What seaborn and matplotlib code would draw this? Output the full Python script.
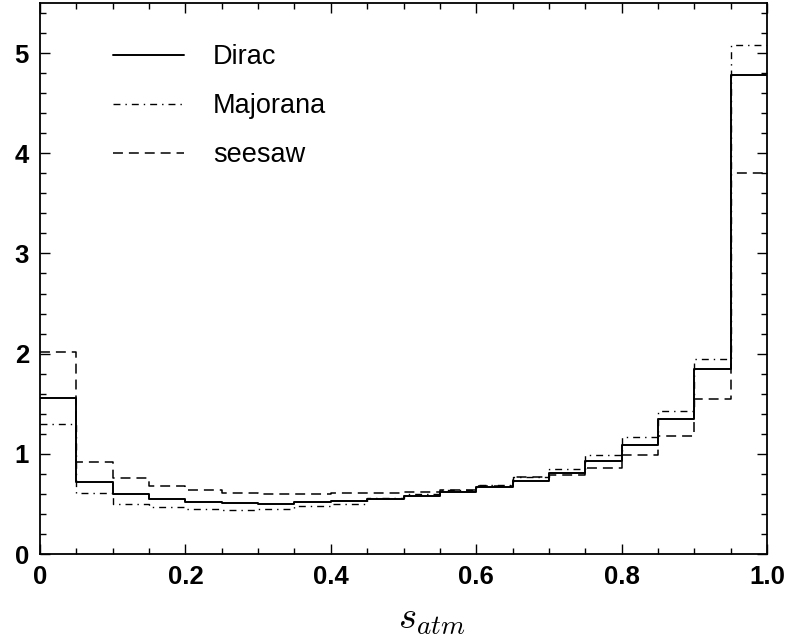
import numpy as np
import pandas as pd
import matplotlib
matplotlib.use("Agg")
import matplotlib.pyplot as plt
from matplotlib.lines import Line2D
from matplotlib.ticker import MultipleLocator
import seaborn as sns

# s_atm range and bin width (20 bins)
s_range = (0.0, 1.0)
bin_width = 0.05

# Normalised distributions per bin
dirac = [1.56, 0.715, 0.595, 0.545, 0.52, 0.505, 0.50, 0.515, 0.53, 0.55,
         0.58, 0.62, 0.665, 0.73, 0.81, 0.93, 1.09, 1.35, 1.85, 4.78]
majorana = [1.30, 0.61, 0.50, 0.465, 0.45, 0.44, 0.45, 0.48, 0.50, 0.56,
            0.60, 0.64, 0.69, 0.77, 0.85, 0.99, 1.165, 1.43, 1.95, 5.08]
seesaw = [2.02, 0.92, 0.76, 0.68, 0.64, 0.605, 0.60, 0.60, 0.61, 0.61,
          0.62, 0.64, 0.675, 0.765, 0.785, 0.86, 0.985, 1.175, 1.55, 3.80]

series_names = ["Dirac", "Majorana", "seesaw"]
x_tick_values = [0.0, 0.2, 0.4, 0.6, 0.8, 1.0]
x_tick_labels = ["0", "0.2", "0.4", "0.6", "0.8", "1.0"]
y_tick_values = [0, 1, 2, 3, 4, 5]
y_tick_labels = ["0", "1", "2", "3", "4", "5"]

sns.set_theme(style="ticks", rc={
    "text.color": "black", "axes.labelcolor": "black",
    "xtick.color": "black", "ytick.color": "black",
    "axes.edgecolor": "black",
})
plt.rcParams["font.family"] = ["Liberation Sans", "DejaVu Sans"]
plt.rcParams["mathtext.fontset"] = "cm"

n_bins = len(dirac)
centers = s_range[0] + bin_width * (np.arange(n_bins) + 0.5)
df = pd.DataFrame({
    "s": np.tile(centers, 3),
    "density": np.concatenate([dirac, majorana, seesaw]),
    "model": np.repeat(series_names, n_bins),
})

styles = {
    "Dirac": dict(linestyle="-", linewidth=1.4),
    "Majorana": dict(linestyle=(0, (5, 3.6, 1, 3.6)), linewidth=1.0),
    "seesaw": dict(linestyle=(0, (6.5, 3.9)), linewidth=1.1),
}

fig = plt.figure(figsize=(7.88, 6.41), dpi=100)
ax = fig.add_axes([40 / 788, 1 - 554 / 641, 727 / 788, 551 / 641])

for name in series_names:
    sub = df[df["model"] == name]
    sns.histplot(data=sub, x="s", weights="density", binwidth=bin_width,
                 binrange=s_range, element="step", fill=False, stat="count",
                 color="black", ax=ax, **styles[name])

ax.set_xlim(*s_range)
ax.set_ylim(0, 5.5)
ax.set_xticks(x_tick_values)
ax.set_xticklabels(x_tick_labels)
ax.set_yticks(y_tick_values)
ax.set_yticklabels(y_tick_labels)
ax.xaxis.set_minor_locator(MultipleLocator(0.05))
ax.yaxis.set_minor_locator(MultipleLocator(0.2))
ax.tick_params(which="both", direction="in", top=True, right=True,
               color="black", width=1.0)
ax.tick_params(which="major", length=7.5, labelsize=18.5, pad=8)
ax.tick_params(which="minor", length=4)
for lab in ax.get_xticklabels() + ax.get_yticklabels():
    lab.set_fontweight("bold")
for sp in ax.spines.values():
    sp.set_linewidth(1.3)
    sp.set_color("black")

ax.set_ylabel("")
ax.set_xlabel(r"$s_{atm}$", fontsize=28)
ax.xaxis.set_label_coords((432 - 40) / 727, -0.086)

handles = [Line2D([], [], color="black", **styles[n]) for n in series_names]
ax.legend(handles, series_names, loc="upper left",
          bbox_to_anchor=(0.0668, 0.969), frameon=False, fontsize=19.5,
          handlelength=2.62, handletextpad=1.07, labelspacing=0.85)

fig.savefig("out.png", dpi=100)
